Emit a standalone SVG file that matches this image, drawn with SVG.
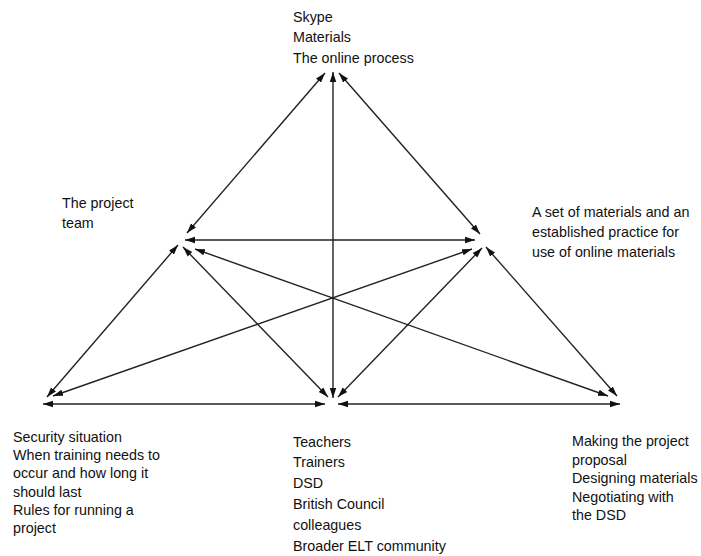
<svg xmlns="http://www.w3.org/2000/svg" width="701" height="556" viewBox="0 0 701 556">
<style>
text{font-family:"Liberation Sans",Arial,sans-serif;font-size:14.3px;fill:#111}
.c line{stroke:#222;stroke-width:1.4;marker-start:url(#ah);marker-end:url(#ah)}
</style>
<defs>
<marker id="ah" markerUnits="userSpaceOnUse" markerWidth="11" markerHeight="8" refX="10" refY="4" orient="auto-start-reverse">
<path d="M0,0.8 L10,4 L0,7.2 Z" fill="#111"/>
</marker>
</defs>
<rect width="701" height="556" fill="#fff"/>
<g class="c" id="connectors">
<line x1="333" y1="72" x2="333" y2="398"/>
<line x1="325" y1="73" x2="187" y2="233"/>
<line x1="339" y1="73" x2="480" y2="234"/>
<line x1="185" y1="240" x2="475" y2="240"/>
<line x1="178" y1="245" x2="47" y2="397"/>
<line x1="183" y1="247" x2="328" y2="397"/>
<line x1="195" y1="249" x2="608" y2="396"/>
<line x1="472" y1="249" x2="53" y2="396"/>
<line x1="482" y1="248" x2="338" y2="397"/>
<line x1="486" y1="247" x2="617" y2="396"/>
<line x1="43" y1="404" x2="325" y2="404"/>
<line x1="338" y1="404" x2="620" y2="404"/>
</g>
<g id="top"><text x="293" y="22">Skype</text><text x="293" y="42">Materials</text><text x="293" y="62.5">The online process</text></g>
<g id="left"><text x="62" y="208">The project</text><text x="62" y="228">team</text></g>
<g id="right"><text x="532" y="217">A set of materials and an</text><text x="532" y="237">established practice for</text><text x="532" y="257">use of online materials</text></g>
<g id="bottom-left"><text x="13" y="442">Security situation</text><text x="13" y="460.2">When training needs to</text><text x="13" y="478.4">occur and how long it</text><text x="13" y="496.6">should last</text><text x="13" y="514.8">Rules for running a</text><text x="13" y="533">project</text></g>
<g id="bottom-middle"><text x="293" y="447">Teachers</text><text x="293" y="467">Trainers</text><text x="293" y="488">DSD</text><text x="293" y="509">British Council</text><text x="293" y="530">colleagues</text><text x="293" y="551">Broader ELT community</text></g>
<g id="bottom-right"><text x="572" y="446">Making the project</text><text x="572" y="464.5">proposal</text><text x="572" y="483">Designing materials</text><text x="572" y="501.5">Negotiating with</text><text x="572" y="520">the DSD</text></g>
</svg>
